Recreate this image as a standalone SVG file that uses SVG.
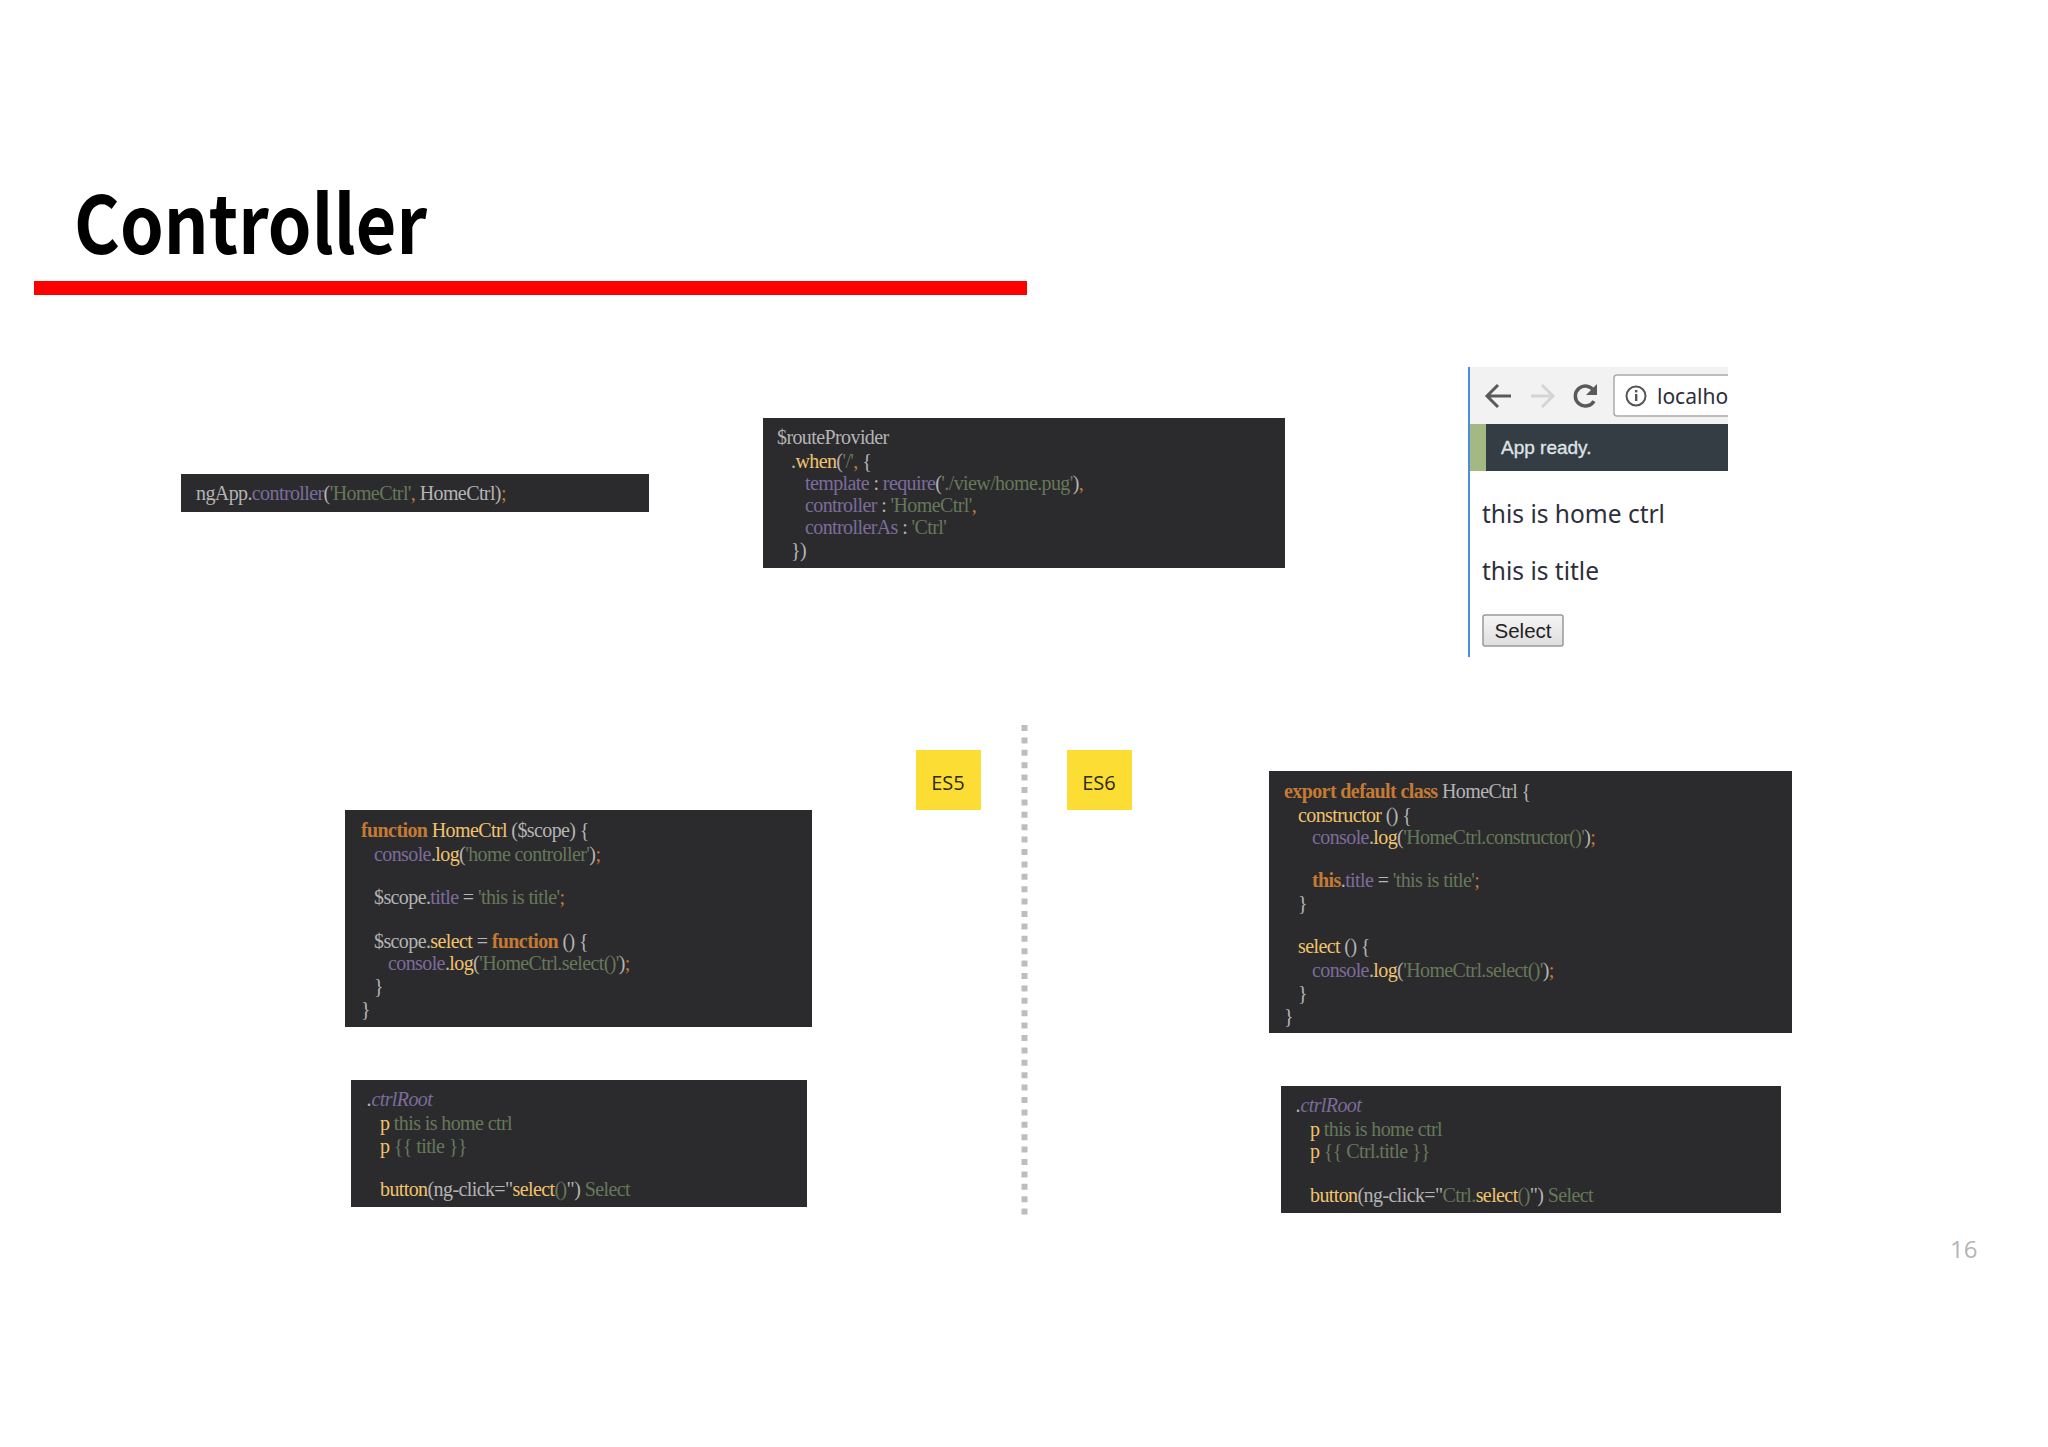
<svg xmlns="http://www.w3.org/2000/svg" width="2048" height="1447" viewBox="0 0 2048 1447">
<style>
.box{fill:#2b2b2d}
.code{font-family:"Liberation Serif",serif;font-size:20px;letter-spacing:-.6px;fill:#b4b4b4}
.p{fill:#7d6c9b}.g{fill:#66785a}.o{fill:#c47a34}.y{fill:#f0c36d}.b{font-weight:700}.i{font-style:italic}
.tag{fill:#fbdd33}
.tagt{font-family:"Open Sans",sans-serif;font-size:20px;fill:#2b2b20;text-anchor:middle}
.ui{font-family:"Noto Sans",sans-serif;fill:#2e2e3c}
</style>
<defs>
<clipPath id="browser-clip"><rect x="1468" y="367" width="260" height="290"/></clipPath>
<linearGradient id="btn" x1="0" y1="0" x2="0" y2="1"><stop offset="0" stop-color="#f6f6f6"/><stop offset="1" stop-color="#dedede"/></linearGradient>
</defs>
<rect width="2048" height="1447" fill="#fff"/>
<g id="title">
<text x="74" y="254" font-family="'Noto Sans CJK KR',sans-serif" font-weight="700" font-size="80" textLength="353" lengthAdjust="spacingAndGlyphs" fill="#000">Controller</text>
<rect x="34" y="281" width="993" height="14" fill="#fe0000"/>
</g>
<g id="code-register">
<rect class="box" x="181" y="474" width="468" height="38"/>
<text class="code" y="500"><tspan x="196">ngApp.</tspan><tspan class="p">controller</tspan>(<tspan class="g">'HomeCtrl'</tspan><tspan class="o">,</tspan> HomeCtrl)<tspan class="o">;</tspan></text>
</g>
<g id="code-route">
<rect class="box" x="763" y="418" width="522" height="150"/>
<text class="code" x="777" y="444">$routeProvider</text>
<text class="code" x="791" y="468">.<tspan class="y">when</tspan>(<tspan class="g">'/'</tspan><tspan class="o">,</tspan> {</text>
<text class="code" x="805" y="490"><tspan class="p">template</tspan> : <tspan class="p">require</tspan>(<tspan class="g">'./view/home.pug'</tspan>)<tspan class="o">,</tspan></text>
<text class="code" x="805" y="512"><tspan class="p">controller</tspan> : <tspan class="g">'HomeCtrl'</tspan><tspan class="o">,</tspan></text>
<text class="code" x="805" y="534"><tspan class="p">controllerAs</tspan> : <tspan class="g">'Ctrl'</tspan></text>
<text class="code" x="791" y="557">})</text>
</g>
<g id="browser" clip-path="url(#browser-clip)">
<rect x="1470" y="367" width="258" height="57" fill="#f2f2f2"/>
<rect x="1614" y="375" width="130" height="41" rx="3" fill="#fff" stroke="#aaa" stroke-width="1.5"/>
<path d="M1511 396H1488M1498 385L1487 396L1498 407" fill="none" stroke="#5a5a5a" stroke-width="3"/>
<path d="M1531 396H1552M1542 385L1553 396L1542 407" fill="none" stroke="#d4d4d4" stroke-width="3"/>
<path d="M1594 401A10 10 0 1 1 1594 391" fill="none" stroke="#5a5a5a" stroke-width="3.500"/>
<path d="M1597 384V395H1586Z" fill="#5a5a5a"/>
<circle cx="1636" cy="396" r="9.500" fill="none" stroke="#555" stroke-width="2"/>
<rect x="1635" y="394" width="2.400" height="7" fill="#555"/><rect x="1635" y="390" width="2.400" height="2.400" fill="#555"/>
<text class="ui" x="1657" y="404" font-size="21">localho</text>
<rect x="1470" y="424" width="258" height="47" fill="#343c44"/>
<rect x="1470" y="424" width="16" height="47" fill="#a3b883"/>
<text x="1501" y="454" font-family="'Liberation Sans',sans-serif" font-size="19" stroke="#dfe3e6" stroke-width=".35" fill="#dfe3e6">App ready.</text>
<text class="ui" x="1482" y="523" font-size="24.500">this is home ctrl</text>
<text class="ui" x="1482" y="580" font-size="24.500">this is title</text>
<rect x="1483" y="615" width="80" height="31" rx="2" fill="url(#btn)" stroke="#999" stroke-width="1.500"/>
<text x="1523" y="638" font-family="'Liberation Sans',sans-serif" font-size="20.500" fill="#222" text-anchor="middle">Select</text>
<rect x="1468" y="367" width="2" height="290" fill="#4a90d9"/>
</g>
<g id="connectors">
<line x1="1024.500" y1="725" x2="1024.500" y2="1219" stroke="#bdbdbd" stroke-width="6" stroke-dasharray="6 6.400"/>
</g>
<g id="es5"><rect class="tag" x="916" y="750" width="65" height="60"/><text class="tagt" x="948" y="790">ES5</text></g>
<g id="es6"><rect class="tag" x="1067" y="750" width="65" height="60"/><text class="tagt" x="1099" y="790">ES6</text></g>
<g id="code-es5">
<rect class="box" x="345" y="810" width="467" height="217"/>
<text class="code" x="361" y="837"><tspan class="o b">function</tspan> <tspan class="y">HomeCtrl</tspan> ($scope) {</text>
<text class="code" x="374" y="861"><tspan class="p">console</tspan>.<tspan class="y">log</tspan>(<tspan class="g">'home controller'</tspan>)<tspan class="o">;</tspan></text>
<text class="code" x="374" y="904">$scope.<tspan class="p">title</tspan> = <tspan class="g">'this is title'</tspan><tspan class="o">;</tspan></text>
<text class="code" x="374" y="948">$scope.<tspan class="y">select</tspan> = <tspan class="o b">function</tspan> () {</text>
<text class="code" x="388" y="970"><tspan class="p">console</tspan>.<tspan class="y">log</tspan>(<tspan class="g">'HomeCtrl.select()'</tspan>)<tspan class="o">;</tspan></text>
<text class="code" x="374" y="993">}</text>
<text class="code" x="361" y="1016">}</text>
</g>
<g id="pug-es5">
<rect class="box" x="351" y="1080" width="456" height="127"/>
<text class="code i" x="367" y="1106"><tspan>.</tspan><tspan class="p">ctrlRoot</tspan></text>
<text class="code" x="380" y="1130"><tspan class="y">p</tspan> <tspan class="g">this is home ctrl</tspan></text>
<text class="code" x="380" y="1153"><tspan class="y">p</tspan> <tspan class="g">{{ title }}</tspan></text>
<text class="code" x="380" y="1196"><tspan class="y">button</tspan>(ng-click="<tspan class="y">select</tspan><tspan class="g">()</tspan>") <tspan class="g">Select</tspan></text>
</g>
<g id="code-es6">
<rect class="box" x="1269" y="771" width="523" height="262"/>
<text class="code" x="1284" y="798"><tspan class="o b">export default class</tspan> HomeCtrl {</text>
<text class="code" x="1298" y="822"><tspan class="y">constructor</tspan> () {</text>
<text class="code" x="1312" y="844"><tspan class="p">console</tspan>.<tspan class="y">log</tspan>(<tspan class="g">'HomeCtrl.constructor()'</tspan>)<tspan class="o">;</tspan></text>
<text class="code" x="1312" y="887"><tspan class="o b">this</tspan>.<tspan class="p">title</tspan> = <tspan class="g">'this is title'</tspan><tspan class="o">;</tspan></text>
<text class="code" x="1298" y="910">}</text>
<text class="code" x="1298" y="953"><tspan class="y">select</tspan> () {</text>
<text class="code" x="1312" y="977"><tspan class="p">console</tspan>.<tspan class="y">log</tspan>(<tspan class="g">'HomeCtrl.select()'</tspan>)<tspan class="o">;</tspan></text>
<text class="code" x="1298" y="1000">}</text>
<text class="code" x="1284" y="1023">}</text>
</g>
<g id="pug-es6">
<rect class="box" x="1281" y="1086" width="500" height="127"/>
<text class="code i" x="1296" y="1112"><tspan>.</tspan><tspan class="p">ctrlRoot</tspan></text>
<text class="code" x="1310" y="1136"><tspan class="y">p</tspan> <tspan class="g">this is home ctrl</tspan></text>
<text class="code" x="1310" y="1158"><tspan class="y">p</tspan> <tspan class="g">{{ Ctrl.title }}</tspan></text>
<text class="code" x="1310" y="1202"><tspan class="y">button</tspan>(ng-click="<tspan class="g">Ctrl.</tspan><tspan class="y">select</tspan><tspan class="g">()</tspan>") <tspan class="g">Select</tspan></text>
</g>
<text id="page" x="1950" y="1258" font-family="'Open Sans',sans-serif" font-size="24" fill="#b5b5b5">16</text>
</svg>
